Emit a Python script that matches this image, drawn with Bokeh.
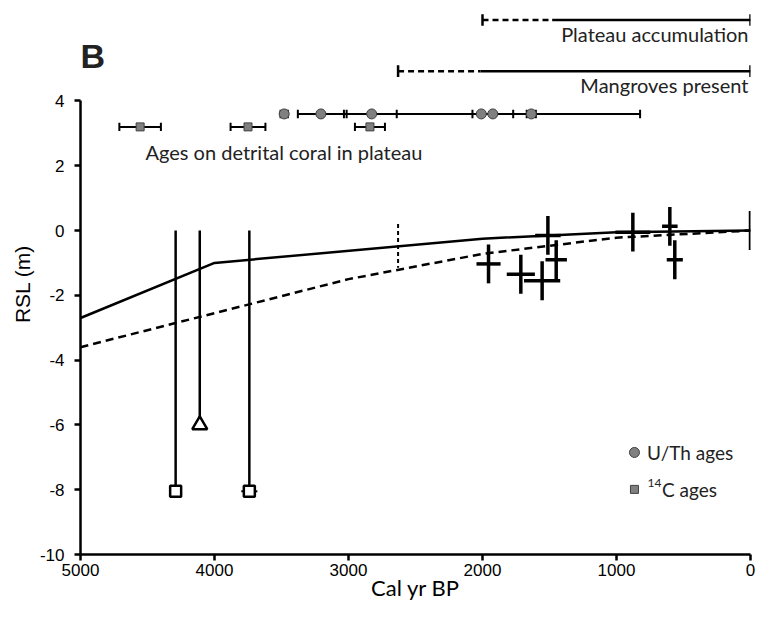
from bokeh.plotting import figure
from bokeh.models import Range1d, FixedTicker
from bokeh.core.properties import value
from bokeh.embed import file_html
from bokeh.resources import INLINE

# RSL model curves
model_age = [5000, 4000, 2000, 1000, 0]
model_upper = [-2.7, -1.0, -0.25, -0.05, 0.0]
model_lower_age = [5000, 4000, 3000, 2000, 1000, 0]
model_lower = [-3.6, -2.55, -1.5, -0.72, -0.22, 0.0]

# limiting points (vertical lines from 0 down to markers)
limit_age = [4290, 4110, 3740]
limit_rsl = [-8.05, -6.0, -8.05]
limit_marker = ["square", "triangle", "square"]

# index points (crosses)
cross_age = [1955, 1714, 1555, 1450, 1512, 878, 602, 565, 0]
cross_rsl = [-1.03, -1.35, -1.55, -0.9, -0.15, -0.05, 0.13, -0.9, 0.0]
cross_xerr = [90, 105, 135, 80, 95, 130, 58, 60, 0]
cross_yerr = [0.6, 0.6, 0.6, 0.6, 0.6, 0.6, 0.6, 0.6, 0.6]

# U/Th and 14C ages on detrital coral
uth_age = [3480, 3206, 2827, 2009, 1923, 1636]
uth_err = [27, 172, 187, 1185, 152, 34]
c14_age = [4555, 3750, 2840]
c14_err = [155, 130, 112]

# time bars at top
bar_labels = ["Plateau accumulation", "Mangroves present"]
bar_start = [2000, 2630]
bar_solid_start = [1480, 2015]
bar_end = [0, 0]

x_ticks = [0, 1000, 2000, 3000, 4000, 5000]
y_ticks = [-10, -8, -6, -4, -2, 0, 2, 4]
y_tick_labels = ["-10", "-8", "-6", "-4", "-2", "0", "2", "4"]

TXT = "Lato"

p = figure(width=760, height=616, x_range=Range1d(5000, 0), y_range=Range1d(-10, 6.7),
           output_backend="svg", toolbar_location=None,
           min_border_left=80, min_border_right=10, min_border_top=13, min_border_bottom=62)
p.outline_line_color = None
p.xgrid.grid_line_color = None
p.ygrid.grid_line_color = None
p.background_fill_color = "white"

for ax in (p.xaxis[0], p.yaxis[0]):
    ax.axis_line_width = 2.5
    ax.axis_line_color = "black"
    ax.major_tick_line_width = 2.5
    ax.major_tick_line_color = "black"
    ax.major_tick_out = 6
    ax.major_tick_in = 0
    ax.minor_tick_line_color = None
    ax.major_label_text_font = "Liberation Sans"
    ax.major_label_text_font_size = "17px"
    ax.major_label_text_color = "black"
    ax.axis_label_text_font_style = "normal"
    ax.axis_label_text_color = "black"

p.xaxis.ticker = FixedTicker(ticks=x_ticks)
p.yaxis.ticker = FixedTicker(ticks=y_ticks)
p.yaxis.major_label_overrides = {t: s for t, s in zip(y_ticks, y_tick_labels)}
p.yaxis.bounds = (-10, 4)
p.xaxis.axis_label = "Cal yr BP"
p.xaxis.axis_label_text_font = TXT
p.xaxis.axis_label_text_font_size = "22px"
p.xaxis.major_label_standoff = 3
p.xaxis.axis_label_standoff = -5
p.yaxis.axis_label = "RSL (m)"
p.yaxis.axis_label_text_font = "Liberation Sans"
p.yaxis.axis_label_text_font_size = "21px"
p.yaxis.major_label_standoff = 10
p.yaxis.axis_label_standoff = 3

# model curves
p.line(model_age, model_upper, line_color="black", line_width=2.5)
p.line(model_lower_age, model_lower, line_color="black", line_width=2.5, line_dash="8 5")
p.segment(x0=[2630], y0=[0.2], x1=[2630], y1=[-1.15], line_color="black", line_width=2, line_dash="4 3")

# limiting points
p.segment(x0=limit_age, y0=[0] * 3, x1=limit_age, y1=limit_rsl, line_color="black", line_width=2.5)
sq_x = [a for a, m in zip(limit_age, limit_marker) if m == "square"]
sq_y = [r for r, m in zip(limit_rsl, limit_marker) if m == "square"]
tr_x = [a for a, m in zip(limit_age, limit_marker) if m == "triangle"]
tr_y = [r for r, m in zip(limit_rsl, limit_marker) if m == "triangle"]
p.segment(x0=[sq_x[1] + 60], y0=[sq_y[1]], x1=[sq_x[1] - 60], y1=[sq_y[1]], line_color="black", line_width=2)
p.scatter(sq_x, sq_y, marker="square", size=11, fill_color="white", line_color="black", line_width=2.5)
p.scatter(tr_x, tr_y, marker="triangle", size=15, fill_color="white", line_color="black", line_width=2.5)

# crosses
p.segment(x0=[a + e for a, e in zip(cross_age, cross_xerr)], y0=cross_rsl,
          x1=[a - e for a, e in zip(cross_age, cross_xerr)], y1=cross_rsl,
          line_color="black", line_width=3.5)
p.segment(x0=cross_age, y0=[r + e for r, e in zip(cross_rsl, cross_yerr)],
          x1=cross_age, y1=[r - e for r, e in zip(cross_rsl, cross_yerr)],
          line_color="black", line_width=3.5)

# detrital coral ages
def errbar(ages, errs, y, cap=0.13):
    p.segment(x0=[a + e for a, e in zip(ages, errs)], y0=[y] * len(ages),
              x1=[a - e for a, e in zip(ages, errs)], y1=[y] * len(ages),
              line_color="black", line_width=2)
    xs = [a + e for a, e in zip(ages, errs)] + [a - e for a, e in zip(ages, errs)]
    p.segment(x0=xs, y0=[y - cap] * len(xs), x1=xs, y1=[y + cap] * len(xs),
              line_color="black", line_width=2)

errbar(uth_age, uth_err, 3.6)
errbar(c14_age, c14_err, 3.2)
p.scatter(uth_age, [3.6] * len(uth_age), marker="circle", size=10, fill_color="#808080", line_color="#404040", line_width=1)
p.scatter(c14_age, [3.2] * len(c14_age), marker="square", size=8, fill_color="#808080", line_color="#404040", line_width=1)
p.text(x=[4515], y=[2.43], text=["Ages on detrital coral in plateau"], text_font=value(TXT),
       text_font_size="20px", text_align="left", text_baseline="middle", text_color="#222222")

# top bars
bar_y = [6.5, 4.92]
label_y = [6.07, 4.5]
p.segment(x0=bar_start, y0=bar_y, x1=bar_solid_start, y1=bar_y, line_color="black", line_width=2.5, line_dash="6 4")
p.segment(x0=bar_solid_start, y0=bar_y, x1=bar_end, y1=bar_y, line_color="black", line_width=2.5)
caps_x = bar_start + bar_end
caps_y = bar_y + bar_y
p.segment(x0=caps_x, y0=[y - 0.18 for y in caps_y], x1=caps_x, y1=[y + 0.18 for y in caps_y],
          line_color="black", line_width=2.5)
p.text(x=[15, 15], y=label_y, text=bar_labels, text_font=value(TXT), text_font_size="20px",
       text_align="right", text_baseline="middle", text_color="#222222")

# panel letter
p.text(x=[5000], y=[5.4], text=["B"], text_font=value("Liberation Sans"), text_font_size="34px",
       text_font_style="bold", text_align="left", text_baseline="alphabetic", text_color="#222222")

# legend
p.scatter([866], [-6.85], marker="circle", size=10, fill_color="#808080", line_color="#404040", line_width=1)
p.scatter([866], [-7.99], marker="square", size=8, fill_color="#808080", line_color="#404040", line_width=1)
p.text(x=[773], y=[-6.85], text=["U/Th ages"], text_font=value(TXT), text_font_size="19px",
       text_align="left", text_baseline="middle", text_color="#222222")
p.text(x=[768], y=[-7.8], text=["14"], text_font=value(TXT), text_font_size="12px",
       text_align="left", text_baseline="middle", text_color="#222222")
p.text(x=[660], y=[-7.99], text=["C ages"], text_font=value(TXT), text_font_size="19px",
       text_align="left", text_baseline="middle", text_color="#222222")

open("out.html", "w").write(file_html(p, INLINE))
